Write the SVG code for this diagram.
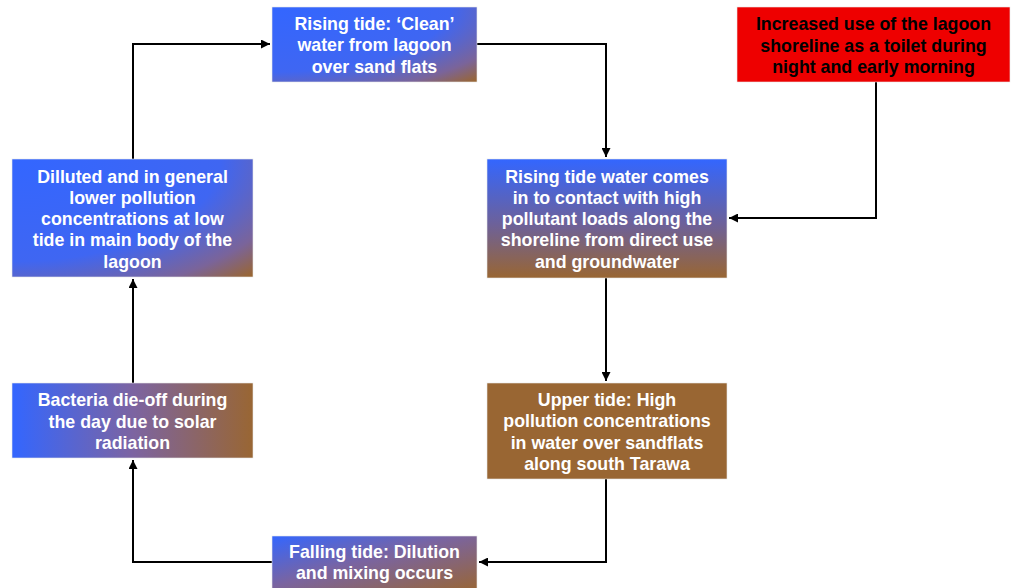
<svg xmlns="http://www.w3.org/2000/svg" width="1011" height="588" viewBox="0 0 1011 588">
<style>
.t{font-family:"Liberation Sans",Arial,sans-serif;font-weight:bold;font-size:17.8px;fill:#ffffff;text-anchor:middle}
.k{fill:#000000}
.c{fill:none;stroke:#000;stroke-width:2}
.b{stroke:#e8e8e8;stroke-width:0.6}
</style>
<defs>
<radialGradient id="gc" cx="0" cy="0" r="1.4" fx="0" fy="0">
<stop offset="0" stop-color="#3366ff"/>
<stop offset="0.62" stop-color="#3f66f2"/>
<stop offset="0.86" stop-color="#7a649a"/>
<stop offset="1" stop-color="#996633"/>
</radialGradient>
<linearGradient id="gv" x1="0" y1="0" x2="0" y2="1">
<stop offset="0" stop-color="#3366ff"/>
<stop offset="0.55" stop-color="#6d6199"/>
<stop offset="1" stop-color="#996633"/>
</linearGradient>
<linearGradient id="gh" x1="0" y1="0" x2="1" y2="0">
<stop offset="0" stop-color="#3366ff"/>
<stop offset="0.5" stop-color="#7c64a2"/>
<stop offset="1" stop-color="#996633"/>
</linearGradient>
<linearGradient id="gd" x1="0" y1="0" x2="1" y2="1">
<stop offset="0" stop-color="#3366ff"/>
<stop offset="0.45" stop-color="#7a64a0"/>
<stop offset="1" stop-color="#996633"/>
</linearGradient>
<marker id="ah" viewBox="0 0 10 10" refX="10" refY="5" markerWidth="4.5" markerHeight="4.5" orient="auto">
<path d="M0,0 L10,5 L0,10 z" fill="#000"/>
</marker>
</defs>
<g id="connectors">
<path class="c" d="M133,159 V44 H270" marker-end="url(#ah)"/>
<path class="c" d="M477,44 H606 V157" marker-end="url(#ah)"/>
<path class="c" d="M876,82 V218 H729" marker-end="url(#ah)"/>
<path class="c" d="M606,278 V381" marker-end="url(#ah)"/>
<path class="c" d="M606,479 V562 H479" marker-end="url(#ah)"/>
<path class="c" d="M272,562 H133 V460" marker-end="url(#ah)"/>
<path class="c" d="M133,383 V279" marker-end="url(#ah)"/>
</g>
<g id="n1">
<rect class="b" x="272" y="7" width="205" height="75" fill="url(#gc)"/>
<text class="t" x="374.5" y="29.5">Rising tide: ‘Clean’</text>
<text class="t" x="374.5" y="51">water from lagoon</text>
<text class="t" x="374.5" y="72.5">over sand flats</text>
</g>
<g id="n2">
<rect class="b" x="12" y="159" width="241" height="118" fill="url(#gc)"/>
<text class="t" x="132.5" y="182.5">Dilluted and in general</text>
<text class="t" x="132.5" y="203.8">lower pollution</text>
<text class="t" x="132.5" y="225.1">concentrations at low</text>
<text class="t" x="132.5" y="246.4">tide in main body of the</text>
<text class="t" x="132.5" y="267.7">lagoon</text>
</g>
<g id="n3">
<rect class="b" x="487" y="159" width="240" height="119" fill="url(#gv)"/>
<text class="t" x="607" y="182.5">Rising tide water comes</text>
<text class="t" x="607" y="203.8">in to contact with high</text>
<text class="t" x="607" y="225.1">pollutant loads along the</text>
<text class="t" x="607" y="246.4">shoreline from direct use</text>
<text class="t" x="607" y="267.7">and groundwater</text>
</g>
<g id="n4">
<rect class="b" x="12" y="383" width="241" height="75" fill="url(#gh)"/>
<text class="t" x="132.5" y="406">Bacteria die-off during</text>
<text class="t" x="132.5" y="427.5">the day due to solar</text>
<text class="t" x="132.5" y="449">radiation</text>
</g>
<g id="n5">
<rect class="b" x="487" y="383" width="240" height="96" fill="#996633"/>
<text class="t" x="607" y="406">Upper tide: High</text>
<text class="t" x="607" y="427.3">pollution concentrations</text>
<text class="t" x="607" y="448.6">in water over sandflats</text>
<text class="t" x="607" y="469.9">along south Tarawa</text>
</g>
<g id="n6">
<rect class="b" x="272" y="536" width="205" height="56" fill="url(#gd)"/>
<text class="t" x="374.5" y="557.5">Falling tide: Dilution</text>
<text class="t" x="374.5" y="578.8">and mixing occurs</text>
</g>
<g id="n7">
<rect class="b" x="737" y="7" width="273" height="75" fill="#ee0000"/>
<text class="t k" x="873.5" y="30">Increased use of the lagoon</text>
<text class="t k" x="873.5" y="51.5">shoreline as a toilet during</text>
<text class="t k" x="873.5" y="73">night and early morning</text>
</g>
</svg>
